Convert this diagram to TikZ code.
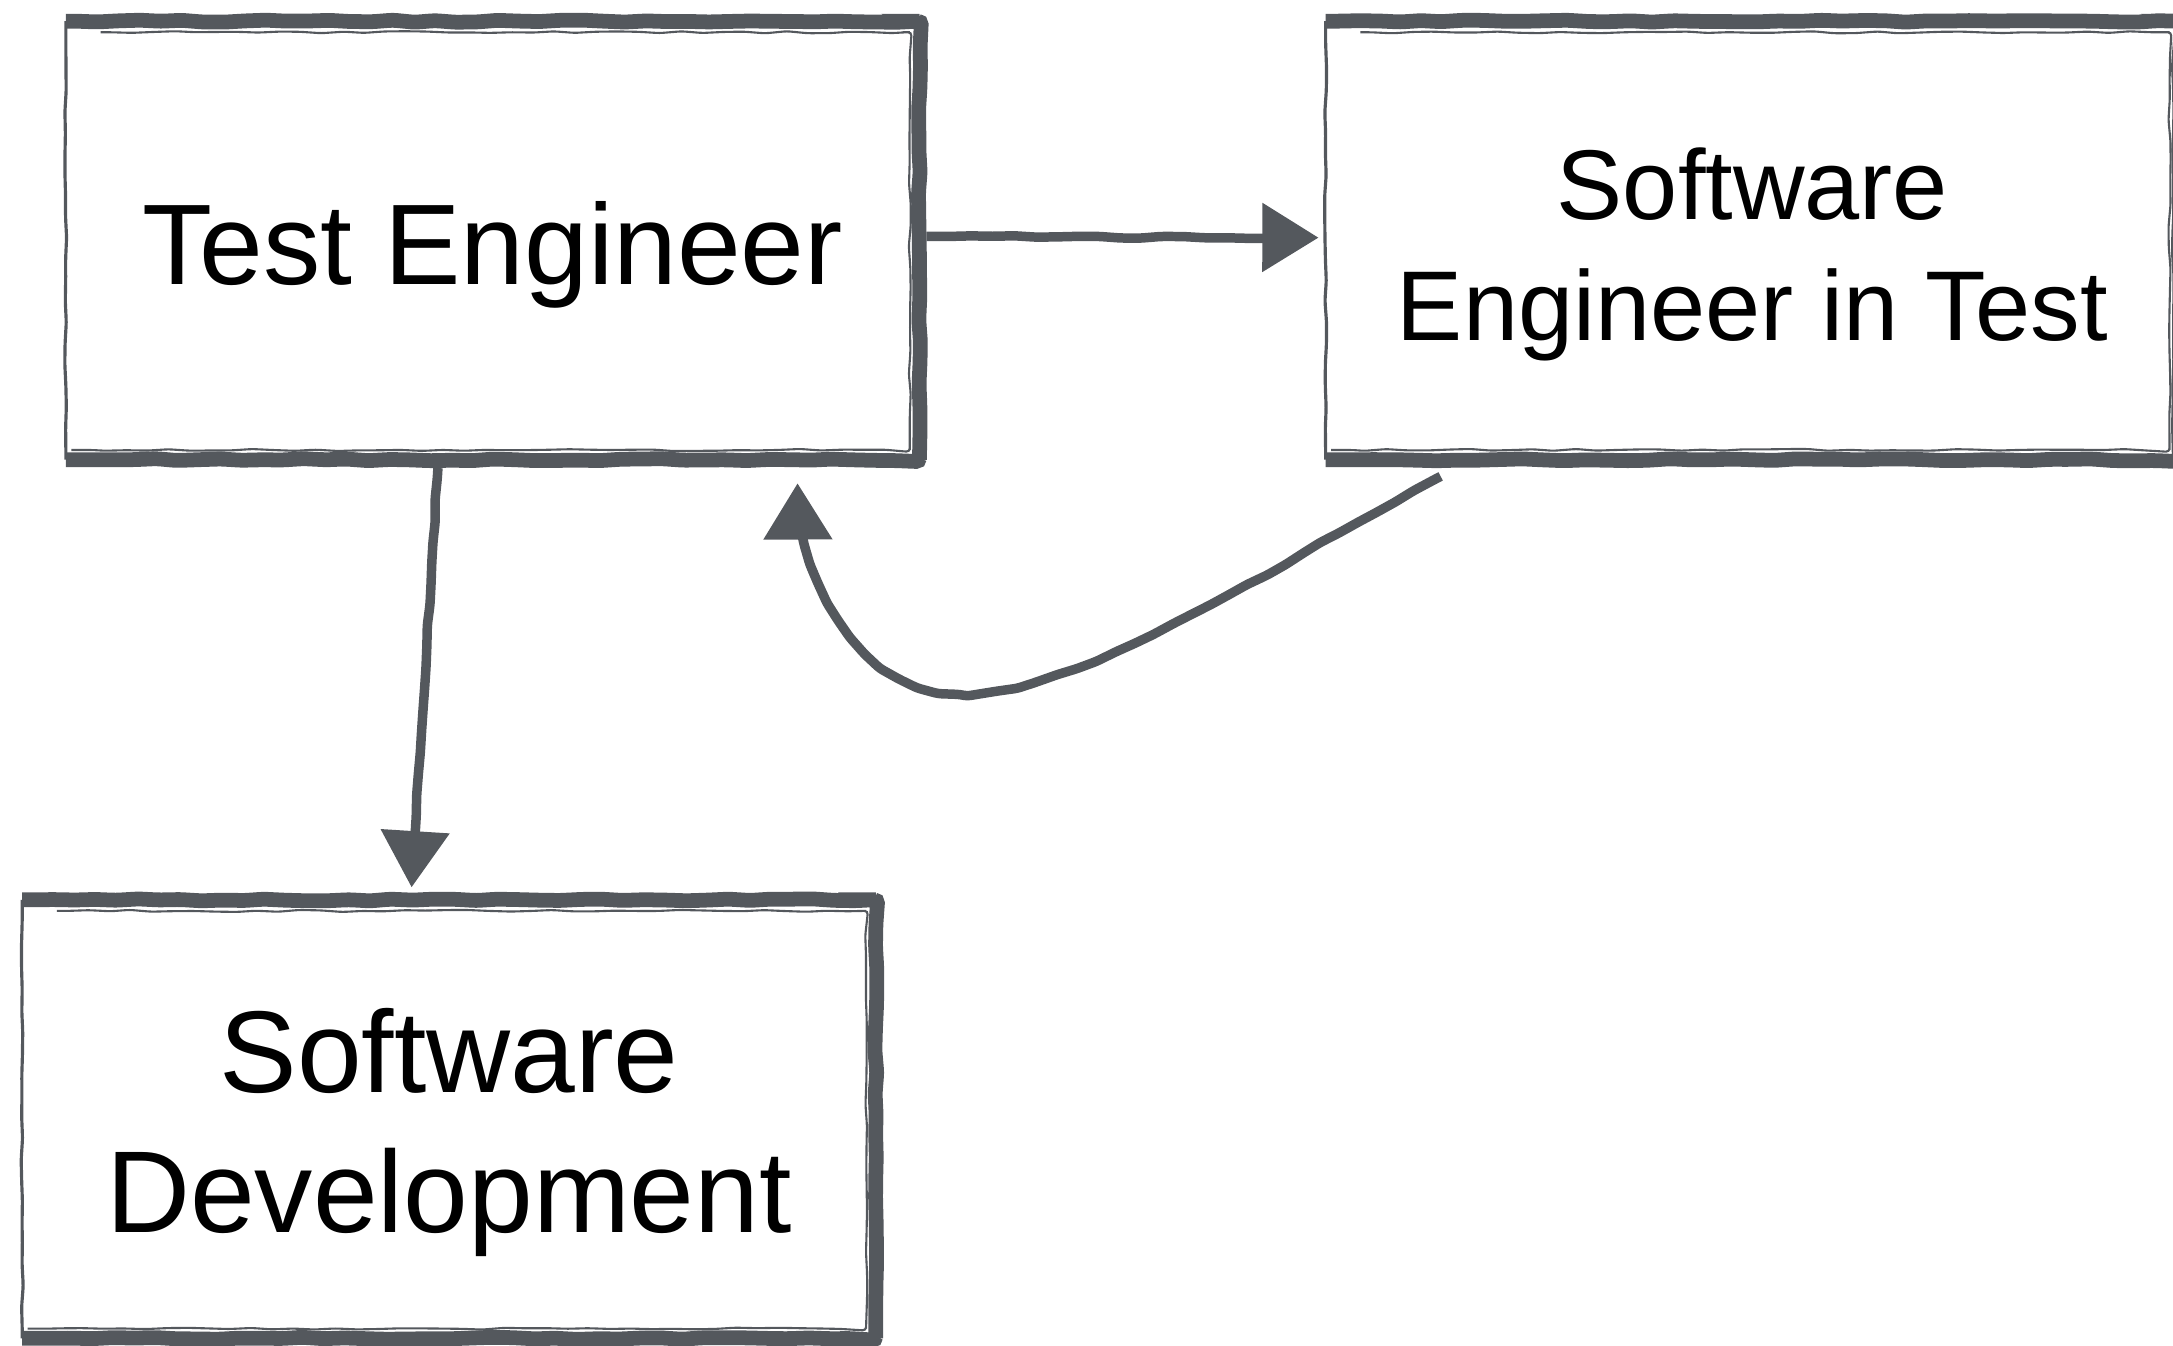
\documentclass[tikz,border=0pt]{standalone}
\usepackage{fontspec}
\setmainfont{Liberation Sans}
\usepackage{tikz}
\usetikzlibrary{arrows.meta,calc,decorations.pathmorphing}
\definecolor{chalk}{RGB}{84,88,93}

\begin{document}
\begin{tikzpicture}
  [x=0.013858cm,y=-0.013858cm,
   every node/.style={rectangle,inner sep=0pt,minimum width=8.52cm,
                      minimum height=4.37cm,align=center}]

  \tikzstyle{rough} = [decorate,decoration={random steps,segment length=6pt,
                       amplitude=0.3pt,pre length=3pt,post length=6pt},
                       rounded corners=1pt]
  \tikzstyle{thickedge} = [rough,draw=chalk,line width=4.2pt,line join=miter]
  \tikzstyle{thinedge} = [rough,draw=chalk,line width=0.9pt]
  \tikzstyle{inneredge} = [rough,draw=chalk,line width=0.6pt]
  \tikzstyle{flow} = [rough,draw=chalk,line width=2.7pt,
                      -{Triangle[length=16pt,width=19pt]}]

  \pgfmathsetseed{7}
  \useasboundingbox (0,0) rectangle (1568,971);
  \clip (0,0) rectangle (1568,971);

  \node (te) at (355.5,173.5)
    [font=\fontsize{32.6pt}{40pt}\selectfont,text height=28pt,text depth=3.1pt]
    {Test Engineer};
  \node (seit) at (1264.5,173.5)
    [font=\fontsize{28.2pt}{34.7pt}\selectfont,text height=60pt,text depth=2.8pt]
    {Software\\Engineer in Test};
  \node (sd) at (324,807.5)
    [font=\fontsize{33.1pt}{39.8pt}\selectfont,text height=68pt,text depth=3.7pt]
    {Software\\Development};

  % sketched frames
  \foreach \b in {te,seit,sd} {
    \draw[thinedge] (\b.south west) -- (\b.north west);
    \draw[thickedge] (\b.north west) -- (\b.north east) -- (\b.south east)
      -- (\b.south west);
    \draw[inneredge] ($(\b.north west)+(25,8)$) -- ($(\b.north east)+(-7,8)$)
      -- ($(\b.south east)+(-7,-7)$) -- ($(\b.south west)+(4,-7)$);
  }

  \draw[flow, shorten <=3.5pt, shorten >=2pt] ($(te.east)+(0,-3)$) -- ($(seit.west)+(0,-2)$);
  \draw[flow] ($(te.south)+(-39.5,6)$) -- ($(sd.north)+(-27,-9)$);
  \draw[flow] ($(seit.south west)+(83,12)$)
    .. controls (934,399) and (790,498) .. (695,501)
    .. controls (625,501) and (575,422) .. ($(te.south east)+(-88,17)$);
\end{tikzpicture}
\end{document}
